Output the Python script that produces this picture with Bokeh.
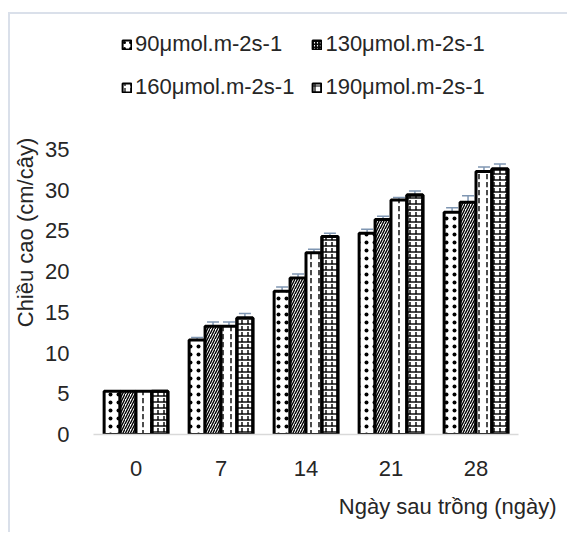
from bokeh.plotting import figure
from bokeh.models import (FactorRange, Range1d, ColumnDataSource, Whisker, Legend,
                          LegendItem, Title)
from bokeh.transform import dodge
from bokeh.embed import file_html
from bokeh.resources import INLINE

days = ["0", "7", "14", "21", "28"]
series_names = ["90μmol.m-2s-1", "130μmol.m-2s-1", "160μmol.m-2s-1", "190μmol.m-2s-1"]
h90 = [5.3, 11.6, 17.6, 24.7, 27.3]
h130 = [5.3, 13.3, 19.2, 26.4, 28.5]
h160 = [5.3, 13.3, 22.3, 28.8, 32.3]
h190 = [5.3, 14.3, 24.3, 29.4, 32.6]
e90 = [0.0, 0.3, 0.5, 0.5, 0.55]
e130 = [0.0, 0.5, 0.5, 0.4, 0.8]
e160 = [0.0, 0.5, 0.45, 0.3, 0.55]
e190 = [0.0, 0.55, 0.4, 0.5, 0.6]
y_ticks = [0, 5, 10, 15, 20, 25, 30, 35]
x_title = "Ngày sau trồng (ngày)"
y_title = "Chiều cao (cm/cây)"

FONT = "Liberation Sans"
TXT = "#262626"
BW = 0.1875
Y_END = 49.6
offsets = [-1.5 * BW, -0.5 * BW, 0.5 * BW, 1.5 * BW]
heights = [h90, h130, h160, h190]
errs = [e90, e130, e160, e190]

# frame spans from the top legend area down to the x axis; ticks stop at 35
p = figure(x_range=FactorRange(factors=days), y_range=Range1d(0, Y_END),
           width=559, height=520, output_backend="svg", toolbar_location=None,
           min_border_left=78, min_border_right=51, min_border_top=16, min_border_bottom=100)
p.styles = {"margin-left": "8px", "margin-top": "12px",
            "border-left": "2px solid #DAE0EA", "border-top": "2px solid #DAE0EA"}
p.outline_line_color = None
p.xgrid.visible = False
p.ygrid.visible = False

hatches = [
    [dict(hatch_pattern="dot", hatch_scale=8, hatch_weight=0.9)],
    [dict(hatch_pattern="right_diagonal_line", hatch_scale=5, hatch_weight=1.4)],
    [dict(hatch_pattern="vertical_dash", hatch_scale=8, hatch_weight=1.4)],
    [dict(hatch_pattern="horizontal_line", hatch_scale=6, hatch_weight=1.4),
     dict(hatch_pattern="vertical_dash", hatch_scale=6, hatch_weight=1.4)],
]
legend_hatches = [
    dict(hatch_pattern="dot", hatch_scale=6, hatch_weight=0.8),
    dict(hatch_pattern="right_diagonal_line", hatch_scale=3, hatch_weight=1.3),
    dict(hatch_pattern="vertical_dash", hatch_scale=6, hatch_weight=1.2),
    dict(hatch_pattern="cross", hatch_scale=6, hatch_weight=1.2),
]

items = []
for i in range(4):
    src = ColumnDataSource(dict(day=days, h=heights[i]))
    for j, hs in enumerate(hatches[i]):
        p.vbar(x=dodge("day", offsets[i], range=p.x_range), top="h", width=BW, source=src,
               fill_color="white" if j == 0 else None, line_color="black",
               line_width=3, hatch_color="black", **hs)
    # legend-only swatch (renderer hidden; only its legend glyph is drawn)
    proxy = p.vbar(x=dodge("day", offsets[i], range=p.x_range), top="h", width=BW,
                   source=src, fill_color="white", line_color="black", line_width=2,
                   hatch_color="black", visible=False, **legend_hatches[i])
    items.append(LegendItem(label=series_names[i], renderers=[proxy]))

for i in range(4):
    dd = [d for d, e in zip(days, errs[i]) if e > 0]
    up = [h + e for h, e in zip(heights[i], errs[i]) if e > 0]
    lo = [h - e for h, e in zip(heights[i], errs[i]) if e > 0]
    esrc = ColumnDataSource(dict(day=dd, up=up, lo=lo))
    w = Whisker(base=dodge("day", offsets[i], range=p.x_range), upper="up", lower="lo",
                source=esrc, line_color="#7F96B2", line_width=1.5)
    for head in (w.upper_head, w.lower_head):
        head.size = 12
        head.line_color = "#7F96B2"
        head.line_width = 1.5
    p.add_layout(w)

legend = Legend(items=items, location=(28, 334), orientation="horizontal", ncols=2,
                label_text_font=FONT, label_text_font_size="22px", label_text_color=TXT,
                glyph_width=11, glyph_height=11, label_standoff=3, label_width=159,
                label_height=25, spacing=17, padding=0, margin=0,
                border_line_color=None, background_fill_alpha=0,
                inactive_fill_alpha=0, click_policy="none")
p.add_layout(legend, "center")

p.yaxis.ticker = y_ticks
p.yaxis.axis_line_color = None
p.yaxis.major_tick_line_color = None
p.yaxis.minor_tick_line_color = None
p.yaxis.major_label_standoff = 18
p.yaxis.axis_label = y_title
p.yaxis.axis_label_standoff = 4
for ax in (p.xaxis[0], p.yaxis[0]):
    ax.major_label_text_font = FONT
    ax.major_label_text_font_size = "22px"
    ax.major_label_text_color = TXT
    ax.axis_label_text_font = FONT
    ax.axis_label_text_font_size = "22px"
    ax.axis_label_text_font_style = "normal"
    ax.axis_label_text_color = TXT

p.xaxis.axis_line_color = "#D9D9D9"
p.xaxis.axis_line_width = 1.5
p.xaxis.major_tick_line_color = None
p.xaxis.minor_tick_line_color = None
p.xaxis.major_label_standoff = 20

p.add_layout(Title(text=x_title, align="right", offset=-38, standoff=26,
                   text_font=FONT, text_font_size="22px", text_font_style="normal",
                   text_color=TXT), "below")

open("out.html", "w").write(file_html(p, INLINE))
